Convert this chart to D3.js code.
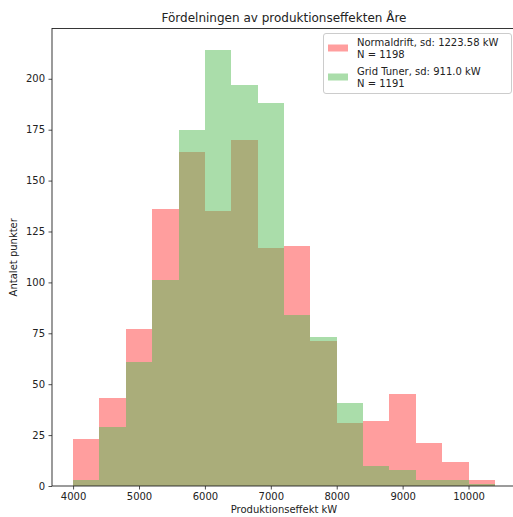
<!DOCTYPE html>
<html>
<head>
<meta charset="utf-8">
<script src="https://cdn.jsdelivr.net/npm/d3@7"></script>
<style>
  body { margin: 0; background: white; }
  svg { display: block; font-family: "DejaVu Sans", sans-serif; }
</style>
</head>
<body>
<script>
// bin edges (kW), 400 wide
const binStart = [4000, 4400, 4800, 5200, 5600, 6000, 6400, 6800, 7200, 7600, 8000, 8400, 8800, 9200, 9600, 10000];
const binWidth = 400;
// counts per bin
const normalCounts = [23, 43, 77, 136, 164, 135, 170, 117, 118, 71, 31, 32, 45, 21, 12, 3];
const tunerCounts = [3, 29, 61, 101, 175, 214, 197, 188, 84, 73, 41, 10, 8, 3, 3, 1];
const xTicks = [4000, 5000, 6000, 7000, 8000, 9000, 10000];
const yTicks = [0, 25, 50, 75, 100, 125, 150, 175, 200];
const seriesNames = ["Normaldrift, sd: 1223.58 kW", "Grid Tuner, sd: 911.0 kW"];
const seriesN = ["N = 1198", "N = 1191"];
const seriesColors = ["#ff0000", "#55bb55"];
const seriesAlpha = [0.38, 0.5];

const width = 513, height = 517;
const plotLeft = 52, plotRight = 516, plotTop = 28.5, plotBottom = 486;

const svg = d3.select("body").append("svg")
  .attr("width", width)
  .attr("height", height);

const x = d3.scaleLinear().domain([3680, 10720]).range([plotLeft, plotRight]);
const y = d3.scaleLinear().domain([0, 214 * 1.05]).range([plotBottom, plotTop]);

// draw one histogram series
function drawBars(counts, color, alpha) {
  svg.append("g")
    .selectAll("rect")
    .data(counts)
    .enter()
    .append("rect")
      .attr("x", (d, i) => x(binStart[i]))
      .attr("width", (d, i) => x(binStart[i] + binWidth) - x(binStart[i]))
      .attr("y", d => y(d))
      .attr("height", d => y(0) - y(d))
      .attr("fill", color)
      .attr("fill-opacity", alpha)
      .attr("shape-rendering", "crispEdges");
}

drawBars(normalCounts, seriesColors[0], seriesAlpha[0]);
drawBars(tunerCounts, seriesColors[1], seriesAlpha[1]);

// frame
svg.append("rect")
  .attr("x", plotLeft)
  .attr("y", plotTop)
  .attr("width", plotRight - plotLeft)
  .attr("height", plotBottom - plotTop)
  .attr("fill", "none")
  .attr("stroke", "#222")
  .attr("stroke-width", 0.9);

// axes
const xAxis = d3.axisBottom(x).tickValues(xTicks).tickSize(3.5).tickPadding(3.5).tickFormat(d3.format("d"));
const gx = svg.append("g").attr("transform", `translate(0,${plotBottom})`).call(xAxis);
gx.select(".domain").remove();

const yAxis = d3.axisLeft(y).tickValues(yTicks).tickSize(3.5).tickPadding(3.5);
const gy = svg.append("g").attr("transform", `translate(${plotLeft},0)`).call(yAxis);
gy.select(".domain").remove();

svg.selectAll(".tick text")
  .attr("font-family", "DejaVu Sans")
  .attr("font-size", 10)
  .attr("fill", "#222");
svg.selectAll(".tick line").attr("stroke", "#222").attr("stroke-width", 0.8);

// title and labels
svg.append("text")
  .attr("x", (plotLeft + plotRight) / 2)
  .attr("y", 22)
  .attr("text-anchor", "middle")
  .attr("font-size", 12)
  .attr("fill", "#222")
  .text("Fördelningen av produktionseffekten Åre");

svg.append("text")
  .attr("x", (plotLeft + plotRight) / 2)
  .attr("y", 513)
  .attr("text-anchor", "middle")
  .attr("font-size", 10)
  .attr("fill", "#222")
  .text("Produktionseffekt kW");

svg.append("text")
  .attr("transform", `translate(17,${(plotTop + plotBottom) / 2}) rotate(-90)`)
  .attr("text-anchor", "middle")
  .attr("font-size", 10)
  .attr("fill", "#222")
  .text("Antalet punkter");

// legend
const legend = svg.append("g");
legend.append("rect")
  .attr("x", 323.5)
  .attr("y", 33.5)
  .attr("width", 188)
  .attr("height", 60)
  .attr("rx", 2.5)
  .attr("fill", "white")
  .attr("fill-opacity", 0.8)
  .attr("stroke", "#cccccc")
  .attr("stroke-width", 1);

seriesNames.forEach((name, i) => {
  const cy = 48 + i * 29;
  legend.append("rect")
    .attr("x", 328)
    .attr("y", cy - 3.5)
    .attr("width", 20)
    .attr("height", 7)
    .attr("fill", seriesColors[i])
    .attr("fill-opacity", seriesAlpha[i]);
  legend.append("text")
    .attr("x", 357)
    .attr("y", cy - 2.5)
    .attr("font-size", 10)
    .attr("fill", "#222")
    .text(name);
  legend.append("text")
    .attr("x", 357)
    .attr("y", cy + 9.5)
    .attr("font-size", 10)
    .attr("fill", "#222")
    .text(seriesN[i]);
});
</script>
</body>
</html>
